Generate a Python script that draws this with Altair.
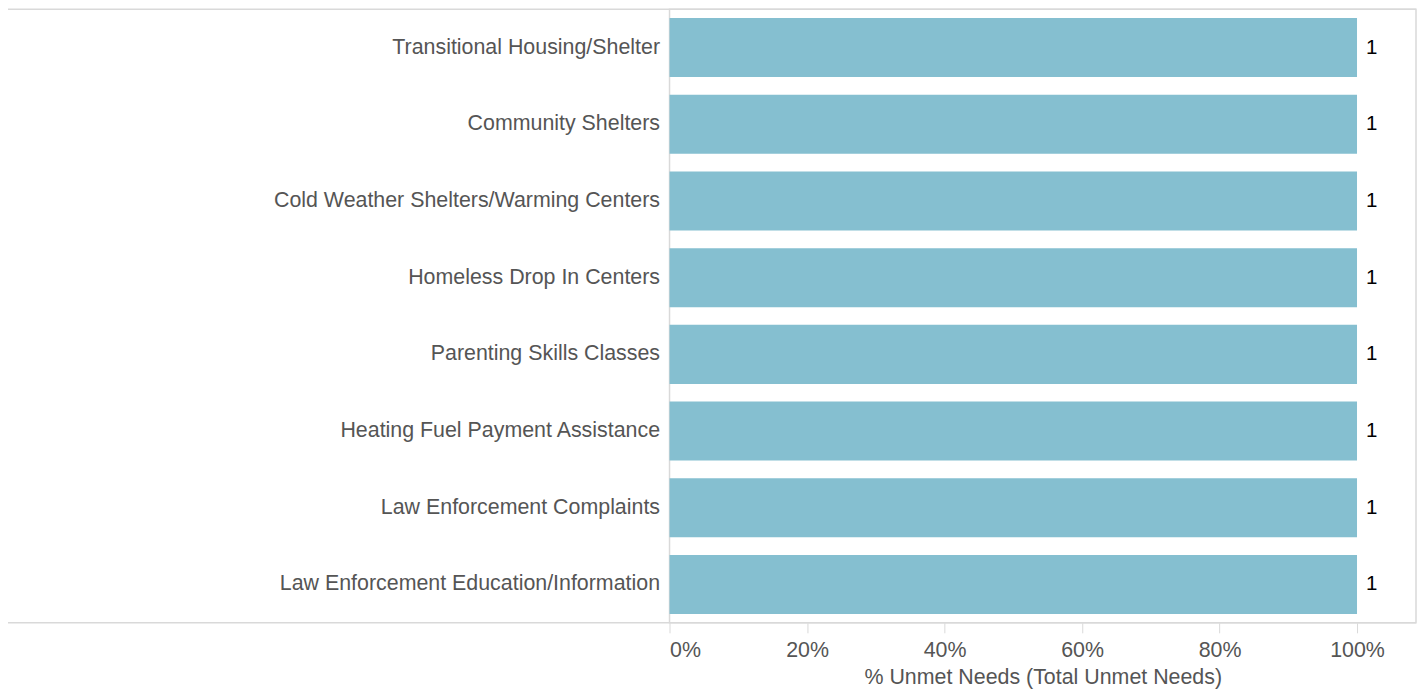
import altair as alt
import pandas as pd

categories = [
    "Transitional Housing/Shelter",
    "Community Shelters",
    "Cold Weather Shelters/Warming Centers",
    "Homeless Drop In Centers",
    "Parenting Skills Classes",
    "Heating Fuel Payment Assistance",
    "Law Enforcement Complaints",
    "Law Enforcement Education/Information",
]
share = [1.0, 1.0, 1.0, 1.0, 1.0, 1.0, 1.0, 1.0]
counts = [1, 1, 1, 1, 1, 1, 1, 1]
tick_values = [0, 0.2, 0.4, 0.6, 0.8, 1.0]

df = pd.DataFrame({"cat": categories, "share": share, "count": counts})

FONT = "Liberation Sans"
FS = 21.4
W, H = 747, 614
LEFT = 662

xscale = alt.Scale(domain=[0, 1.0858], nice=False, zero=True)
yscale = alt.Scale(paddingInner=0.23, paddingOuter=0.115)

base = alt.Chart(df)

bars = base.mark_bar(color="#85bfd0").encode(
    x=alt.X(
        "share:Q",
        scale=xscale,
        axis=alt.Axis(
            values=tick_values,
            format=".0%",
            title="% Unmet Needs (Total Unmet Needs)",
            domain=False,
            grid=False,
            ticks=True,
            tickSize=10,
            tickColor="#d9d9d9",
            labelFlush=True,
            labelFlushOffset=0,
            labelFont=FONT,
            labelFontSize=FS,
            labelColor="#555555",
            labelPadding=7,
            titleFont=FONT,
            titleFontSize=FS,
            titleFontWeight="normal",
            titleColor="#555555",
            titlePadding=5,
        ),
    ),
    y=alt.Y(
        "cat:N",
        sort=categories,
        scale=yscale,
        axis=alt.Axis(
            title=None,
            domain=False,
            ticks=False,
            grid=False,
            labelFont=FONT,
            labelFontSize=FS,
            labelColor="#555555",
            labelPadding=10,
            labelLimit=700,
        ),
    ),
)

labels = base.mark_text(
    align="left", baseline="middle", dx=9, font=FONT, fontSize=20.5, color="#000000"
).encode(
    x=alt.X("share:Q", scale=xscale),
    y=alt.Y("cat:N", sort=categories, scale=yscale),
    text="count:Q",
)

top_rule = alt.Chart(df.head(1)).mark_rule(color="#d9d9d9", strokeWidth=1.5).encode(
    x=alt.value(-LEFT), x2=alt.value(W), y=alt.value(0)
)
bottom_rule = alt.Chart(df.head(1)).mark_rule(color="#d9d9d9", strokeWidth=1.5).encode(
    x=alt.value(-LEFT), x2=alt.value(W), y=alt.value(H)
)

chart = (
    alt.layer(bars, labels, top_rule, bottom_rule)
    .properties(
        width=W,
        height=H,
        autosize=alt.AutoSizeParams(type="none"),
        padding={"left": LEFT, "top": 1, "right": 2, "bottom": 70},
    )
    .configure_view(stroke="#d9d9d9", strokeWidth=1.5)
)

chart.save("out.html", embed_options={"renderer": "svg", "actions": False})
